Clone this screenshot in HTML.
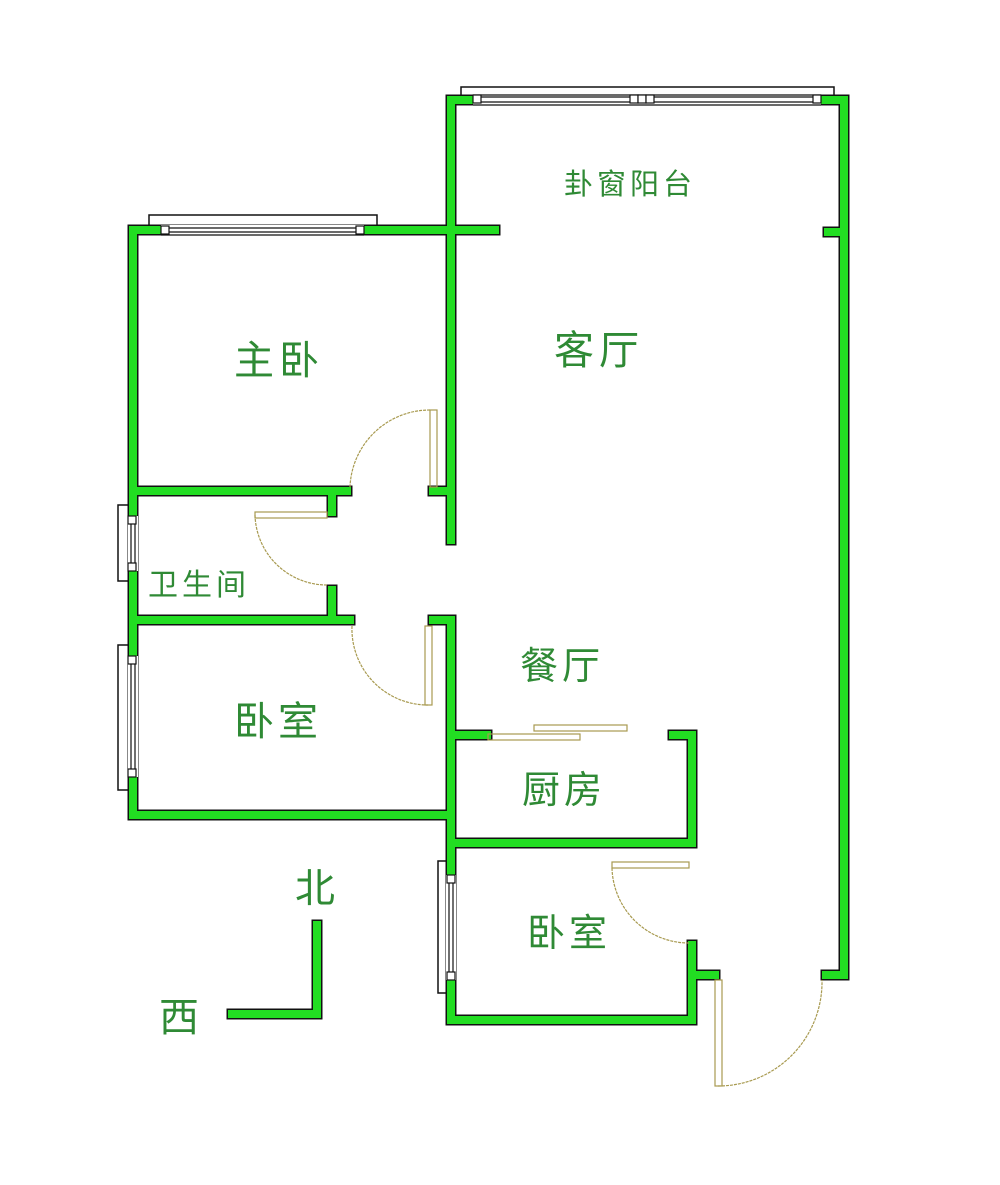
<!DOCTYPE html>
<html><head><meta charset="utf-8"><style>
html,body{margin:0;padding:0;background:#fff;}
svg{display:block}
text{font-family:"Liberation Sans","Noto Sans CJK SC",sans-serif;fill:#2f8a35;}
</style></head><body>
<svg width="1000" height="1185" viewBox="0 0 1000 1185" xmlns="http://www.w3.org/2000/svg">
<g fill="#fff" stroke="#111" stroke-width="1.5">
<rect x="461" y="87" width="373" height="16"/>
<rect x="149" y="215" width="228" height="16"/>
<rect x="118" y="505" width="13" height="76"/>
<rect x="118" y="645" width="13" height="145"/>
<rect x="438" y="861" width="14" height="132"/>
</g>
<g fill="none" stroke-linecap="square" stroke-linejoin="miter">
<g stroke="#111" stroke-width="11">
<path d="M451,540 V100 H844 V975 H826"/>
<path d="M828,232 H844"/>
<path d="M133,815 V230 H495"/>
<path d="M133,815 H451"/>
<path d="M133,491 H347 M332,491 V512 M433,491 H451"/>
<path d="M133,620 H350 M332,590 V620"/>
<path d="M433,620 H451 V1020 H692 V945 M692,975 H715"/>
<path d="M451,843 H692 V735 H673 M451,735 H487"/>
<path d="M317,925 V1014 H232"/>
</g>
<g stroke="#22dd22" stroke-width="8">
<path d="M451,540 V100 H844 V975 H826"/>
<path d="M828,232 H844"/>
<path d="M133,815 V230 H495"/>
<path d="M133,815 H451"/>
<path d="M133,491 H347 M332,491 V512 M433,491 H451"/>
<path d="M133,620 H350 M332,590 V620"/>
<path d="M433,620 H451 V1020 H692 V945 M692,975 H715"/>
<path d="M451,843 H692 V735 H673 M451,735 H487"/>
<path d="M317,925 V1014 H232"/>
</g>
</g>
<!-- window openings replacing wall -->
<g fill="#fff" stroke="none">
<rect x="473" y="95" width="348" height="10"/>
<rect x="161" y="225" width="203" height="10"/>
<rect x="128" y="516" width="10" height="55"/>
<rect x="128" y="656" width="10" height="121"/>
<rect x="446" y="875" width="10" height="105"/>
</g>
<g fill="#fff" stroke="#111" stroke-width="1.2">
<line x1="481" y1="97" x2="813" y2="97"/><line x1="481" y1="102" x2="813" y2="102"/>
<line x1="473" y1="95" x2="821" y2="95"/><line x1="473" y1="105" x2="821" y2="105"/>
<rect x="473" y="95" width="8" height="8"/><rect x="630" y="95" width="8" height="8"/><rect x="638" y="95" width="8" height="8"/><rect x="646" y="95" width="8" height="8"/><rect x="813" y="95" width="8" height="8"/>
<line x1="169" y1="228" x2="356" y2="228"/><line x1="169" y1="232" x2="356" y2="232"/>
<line x1="161" y1="235" x2="364" y2="235"/>
<rect x="161" y="226" width="8" height="8"/><rect x="356" y="226" width="8" height="8"/>
<line x1="131" y1="516" x2="131" y2="571"/><line x1="135" y1="516" x2="135" y2="571"/>
<line x1="131" y1="656" x2="131" y2="777"/><line x1="135" y1="656" x2="135" y2="777"/>
<line x1="449" y1="875" x2="449" y2="980"/><line x1="453" y1="875" x2="453" y2="980"/>
<rect x="128" y="516" width="8" height="8"/><rect x="128" y="563" width="8" height="8"/>
<rect x="128" y="656" width="8" height="8"/><rect x="128" y="769" width="8" height="8"/>
<rect x="447" y="875" width="8" height="8"/><rect x="447" y="972" width="8" height="8"/>
</g>
<g fill="none" stroke="#a89a50" stroke-width="1.2">
<rect x="430" y="410" width="7" height="77"/>
<path d="M430,410 A80,80 0 0 0 350,487" stroke-dasharray="3,1"/>
<rect x="255" y="512" width="72" height="6"/>
<path d="M255,515 A72,72 0 0 0 327,585" stroke-dasharray="3,1"/>
<rect x="425" y="626" width="7" height="79"/>
<path d="M352,626 A76,76 0 0 0 428,705" stroke-dasharray="3,1"/>
<rect x="488" y="734" width="92" height="6"/>
<rect x="534" y="725" width="93" height="6"/>
<rect x="612" y="862" width="77" height="6"/>
<path d="M612,868 A77,77 0 0 0 689,943" stroke-dasharray="3,1"/>
<rect x="715" y="980" width="7" height="106"/>
<path d="M718,1086 A104,104 0 0 0 822,980" stroke-dasharray="3,1"/>
</g>
<text x="564" y="194" font-size="29" letter-spacing="4">卦窗阳台</text>
<text x="554" y="364" font-size="40" letter-spacing="5">客厅</text>
<text x="234" y="374" font-size="40" letter-spacing="5">主卧</text>
<text x="148" y="595" font-size="30" letter-spacing="4">卫生间</text>
<text x="234" y="735" font-size="40" letter-spacing="4">卧室</text>
<text x="520" y="679" font-size="38" letter-spacing="4">餐厅</text>
<text x="522" y="803" font-size="38" letter-spacing="4">厨房</text>
<text x="527" y="946" font-size="38" letter-spacing="4">卧室</text>
<text x="295" y="902" font-size="40">北</text>
<text x="159" y="1031" font-size="40">西</text>
</svg>
</body></html>
